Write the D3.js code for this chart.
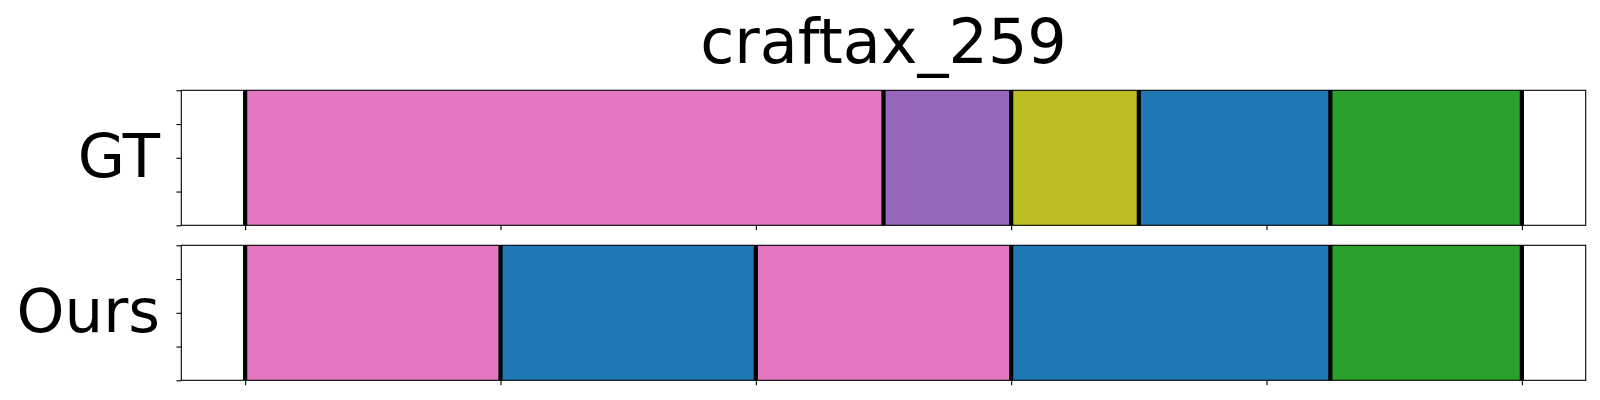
<!DOCTYPE html>
<html>
<head>
<meta charset="utf-8">
<script src="https://cdn.jsdelivr.net/npm/d3@7"></script>
<style>
  html, body { margin: 0; padding: 0; background: #fff; }
  svg { display: block; }
  text { font-family: "DejaVu Sans", sans-serif; fill: #000; }
</style>
</head>
<body>
<svg id="chart" width="1600" height="400"></svg>
<script>
// ---- data ----
const title = "craftax_259";
const rowLabels = ["GT", "Ours"];
// segment boundaries (frame index) per row
const gtBounds   = [0, 125, 150, 175, 212.5, 250];
const oursBounds = [0, 50, 100, 150, 212.5, 250];
// class index (tab10) of each segment
const gtClasses   = [6, 4, 8, 0, 2];
const oursClasses = [6, 0, 6, 0, 2];
const xTicks = [0, 50, 100, 150, 200, 250];
const yTicks = [0, 0.25, 0.5, 0.75, 1];

const rows = [
  { label: rowLabels[0], bounds: gtBounds, classes: gtClasses },
  { label: rowLabels[1], bounds: oursBounds, classes: oursClasses }
];

const palette = d3.schemeCategory10;
const svg = d3.select("#chart");

const left = 181.3, right = 1585.7;
const panelTops = [90.3, 245.3];
const panelH = 135;

const x = d3.scaleLinear().domain([-12.5, 262.5]).range([left, right]);

svg.append("text")
  .attr("x", (left + right) / 2)
  .attr("y", 63)
  .attr("text-anchor", "middle")
  .style("font-size", "62px")
  .text(title);

rows.forEach((row, i) => {
  const top = panelTops[i];
  const y = d3.scaleLinear().domain([0, 1]).range([top + panelH, top]);
  const g = svg.append("g");

  const segs = row.classes.map((c, k) => ({ c, s: row.bounds[k], e: row.bounds[k + 1] }));
  g.selectAll("rect.seg").data(segs).enter().append("rect")
    .attr("class", "seg")
    .attr("x", d => x(d.s))
    .attr("width", d => x(d.e) - x(d.s))
    .attr("y", y(1))
    .attr("height", y(0) - y(1))
    .attr("fill", d => palette[d.c]);

  g.selectAll("line.bnd").data(row.bounds).enter().append("line")
    .attr("class", "bnd")
    .attr("x1", d => x(d)).attr("x2", d => x(d))
    .attr("y1", y(1)).attr("y2", y(0))
    .attr("stroke", "#000")
    .attr("stroke-width", 4.2);

  // axes
  const xa = d3.axisBottom(x).tickValues(xTicks).tickFormat("").tickSize(4.9).tickSizeOuter(0);
  const ya = d3.axisLeft(y).tickValues(yTicks).tickFormat("").tickSize(4.9).tickSizeOuter(0);
  const gx = g.append("g").attr("transform", `translate(0,${top + panelH})`).call(xa);
  const gy = g.append("g").attr("transform", `translate(${left},0)`).call(ya);
  [gx, gy].forEach(a => {
    a.select(".domain").remove();
    a.selectAll(".tick line").attr("stroke", "#000").attr("stroke-width", 1.1);
  });

  // frame
  g.append("rect")
    .attr("x", left).attr("y", top)
    .attr("width", right - left).attr("height", panelH)
    .attr("fill", "none").attr("stroke", "#000").attr("stroke-width", 1.1);

  g.append("text")
    .attr("x", 160)
    .attr("y", top + panelH / 2 + 18.8)
    .attr("text-anchor", "end")
    .style("font-size", "61px")
    .text(row.label);
});
</script>
</body>
</html>
